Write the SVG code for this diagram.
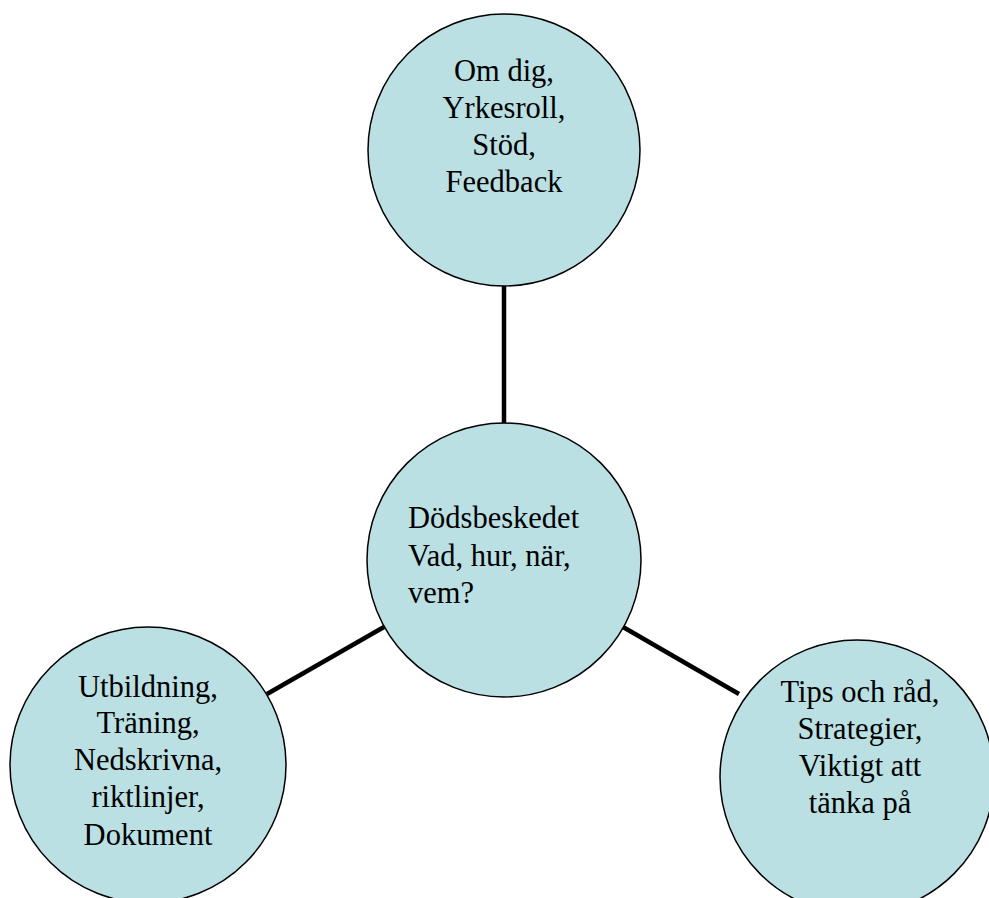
<svg xmlns="http://www.w3.org/2000/svg" width="989" height="898" viewBox="0 0 989 898">
<style>
.node{fill:#bbe0e3;stroke:#000;stroke-width:1.5}
.conn{stroke:#000;stroke-width:4.5;fill:none}
.c{text-anchor:middle}
text{font-family:"Liberation Serif",serif;font-size:30.5px;fill:#000}
</style>
<rect width="989" height="898" fill="#fff"/>
<g id="connectors">
<line class="conn" x1="504" y1="285" x2="504" y2="424"/>
<line class="conn" x1="384" y1="627" x2="267" y2="694"/>
<line class="conn" x1="623" y1="627" x2="739" y2="694"/>
</g>
<g id="node-top">
<circle class="node" cx="504" cy="150" r="136"/>
<text class="c" x="504" y="81">Om dig,</text>
<text class="c" x="504" y="118">Yrkesroll,</text>
<text class="c" x="504" y="155">Stöd,</text>
<text class="c" x="504" y="192">Feedback</text>
</g>
<g id="node-center">
<circle class="node" cx="504" cy="560" r="137"/>
<text x="408" y="528">Dödsbeskedet</text>
<text x="408" y="566">Vad, hur, när,</text>
<text x="408" y="603">vem?</text>
</g>
<g id="node-left">
<circle class="node" cx="148" cy="765" r="138"/>
<text class="c" x="148" y="697">Utbildning,</text>
<text class="c" x="148" y="733">Träning,</text>
<text class="c" x="148" y="770">Nedskrivna,</text>
<text class="c" x="148" y="807">riktlinjer,</text>
<text class="c" x="148" y="845">Dokument</text>
</g>
<g id="node-right">
<circle class="node" cx="857" cy="777" r="137"/>
<text class="c" x="860" y="702">Tips och råd,</text>
<text class="c" x="860" y="739">Strategier,</text>
<text class="c" x="860" y="776">Viktigt att</text>
<text class="c" x="860" y="813">tänka på</text>
</g>
</svg>
